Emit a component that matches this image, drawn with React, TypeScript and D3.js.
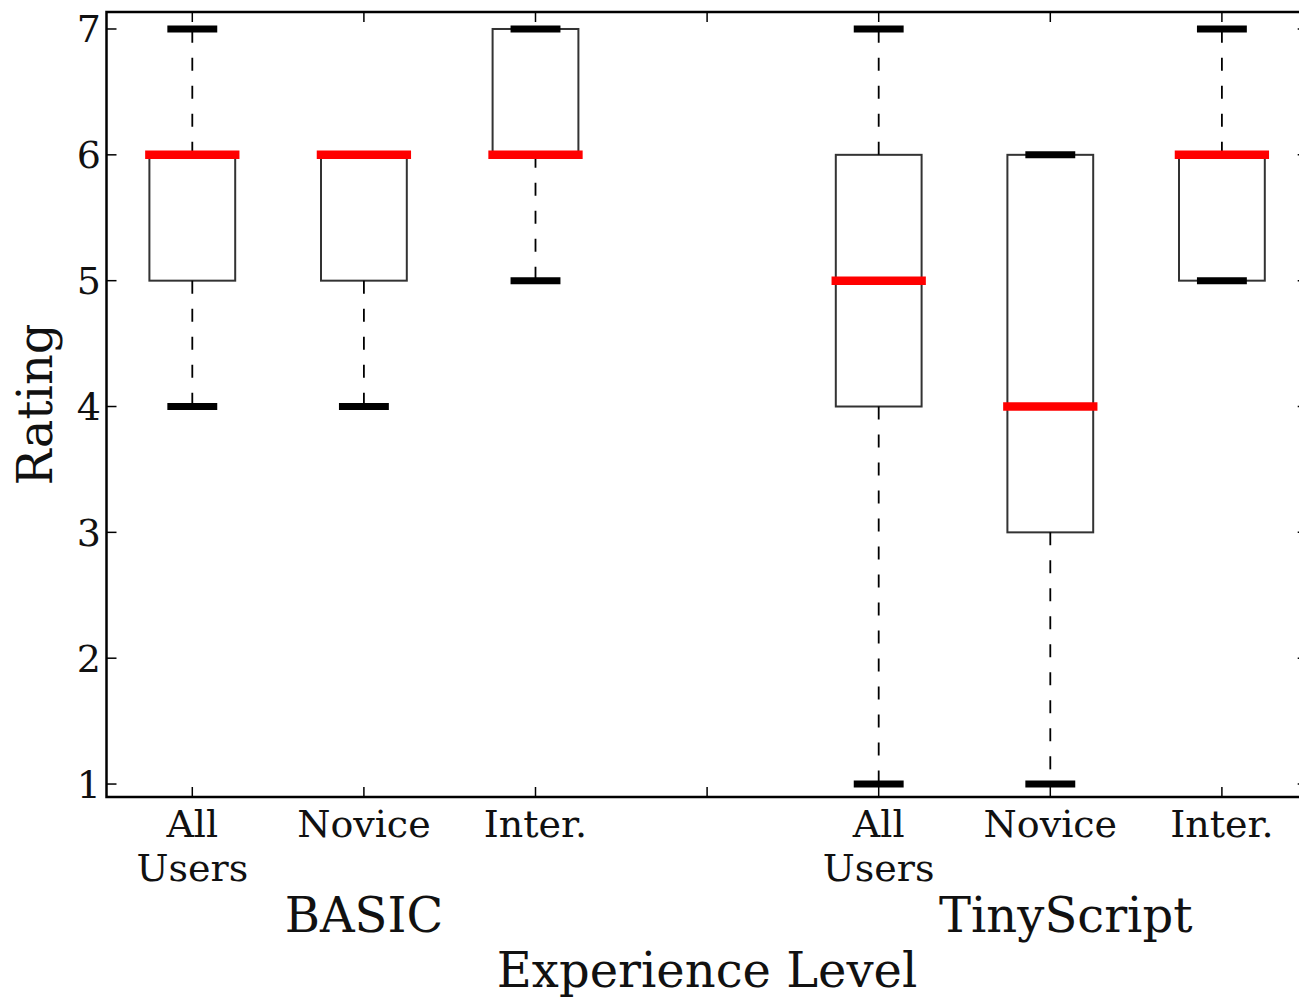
import React from "react";
import * as d3 from "d3";

const positions = [1, 2, 3, 5, 6, 7];
const tickLabels = [["All", "Users"], ["Novice"], ["Inter."], [], ["All", "Users"], ["Novice"], ["Inter."]];
const whiskerLow = [4, 4, 5, 1, 1, 5];
const q1 = [5, 5, 6, 4, 3, 5];
const medians = [6, 6, 6, 5, 4, 6];
const q3 = [6, 6, 7, 6, 6, 6];
const whiskerHigh = [7, 6, 7, 7, 6, 7];
const groupLabels = ["BASIC", "TinyScript"];
const groupCenters = [2, 6.09];
const yTicks = [1, 2, 3, 4, 5, 6, 7];

const W = 1299;
const H = 997;
const FONT = "'DejaVu Serif', serif";

export default function App() {
  const x = d3.scaleLinear().domain([0.5, 7.5]).range([106.5, 1307.7]);
  const y = d3.scaleLinear().domain([0.897, 7.135]).range([797, 12]);
  const [x0, x1] = x.range();
  const [yb, yt] = y.range();
  const step = x(2) - x(1);
  const boxW = step * 0.5;
  const capW = step * 0.25;
  const tickLen = 10;
  const xTickPos = d3.range(1, 8);

  return (
    <div style={{ position: "fixed", left: 0, top: 0 }}>
      <svg width={W} height={H} style={{ display: "block", background: "#fff" }}>
        {/* boxes */}
        {positions.map((p, i) => (
          <rect
            key={"b" + i}
            x={x(p) - boxW / 2}
            y={y(q3[i])}
            width={boxW}
            height={y(q1[i]) - y(q3[i])}
            fill="none"
            stroke="#333"
            strokeWidth={2}
          />
        ))}
        {/* whiskers */}
        {positions.map((p, i) => (
          <g key={"w" + i}>
            {whiskerHigh[i] > q3[i] && (
              <line x1={x(p)} x2={x(p)} y1={y(q3[i])} y2={y(whiskerHigh[i])} stroke="#000" strokeWidth={1.8} strokeDasharray="13,15" />
            )}
            {whiskerLow[i] < q1[i] && (
              <line x1={x(p)} x2={x(p)} y1={y(q1[i])} y2={y(whiskerLow[i])} stroke="#000" strokeWidth={1.8} strokeDasharray="13,15" />
            )}
          </g>
        ))}
        {/* caps */}
        {positions.map((p, i) => (
          <g key={"c" + i}>
            <line x1={x(p) - capW / 2} x2={x(p) + capW / 2} y1={y(whiskerHigh[i])} y2={y(whiskerHigh[i])} stroke="#000" strokeWidth={7} strokeLinecap="square" />
            <line x1={x(p) - capW / 2} x2={x(p) + capW / 2} y1={y(whiskerLow[i])} y2={y(whiskerLow[i])} stroke="#000" strokeWidth={7} strokeLinecap="square" />
          </g>
        ))}
        {/* medians */}
        {positions.map((p, i) => (
          <line key={"m" + i} x1={x(p) - boxW / 2} x2={x(p) + boxW / 2} y1={y(medians[i])} y2={y(medians[i])} stroke="#ff0000" strokeWidth={8.5} strokeLinecap="square" />
        ))}
        {/* ticks */}
        {yTicks.map((t) => (
          <g key={"yt" + t}>
            <line x1={x0} x2={x0 + tickLen} y1={y(t)} y2={y(t)} stroke="#000" strokeWidth={1.5} />
            <line x1={x1} x2={x1 - tickLen} y1={y(t)} y2={y(t)} stroke="#000" strokeWidth={1.5} />
            <text x={101} y={y(t) + 13.5} textAnchor="end" fontFamily={FONT} fontSize={38} fill="#111">
              {t}
            </text>
          </g>
        ))}
        {xTickPos.map((t, i) => (
          <g key={"xt" + t}>
            <line x1={x(t)} x2={x(t)} y1={yb} y2={yb - tickLen} stroke="#000" strokeWidth={1.5} />
            <line x1={x(t)} x2={x(t)} y1={yt} y2={yt + tickLen} stroke="#000" strokeWidth={1.5} />
            {tickLabels[i].map((l, j) => (
              <text key={j} x={x(t)} y={837 + j * 44} textAnchor="middle" fontFamily={FONT} fontSize={38} fill="#111">
                {l}
              </text>
            ))}
          </g>
        ))}
        {/* spines */}
        <rect x={x0} y={yt} width={x1 - x0} height={yb - yt} fill="none" stroke="#000" strokeWidth={2.5} />
        {/* group labels */}
        {groupLabels.map((g, i) => (
          <text key={g} x={x(groupCenters[i])} y={932} textAnchor="middle" fontFamily={FONT} fontSize={48} fill="#111">
            {g}
          </text>
        ))}
        <text x={x(4)} y={987} textAnchor="middle" fontFamily={FONT} fontSize={48} fill="#111">
          Experience Level
        </text>
        <text transform={`translate(52, ${(yb + yt) / 2}) rotate(-90)`} textAnchor="middle" fontFamily={FONT} fontSize={48} fill="#111">
          Rating
        </text>
      </svg>
    </div>
  );
}
